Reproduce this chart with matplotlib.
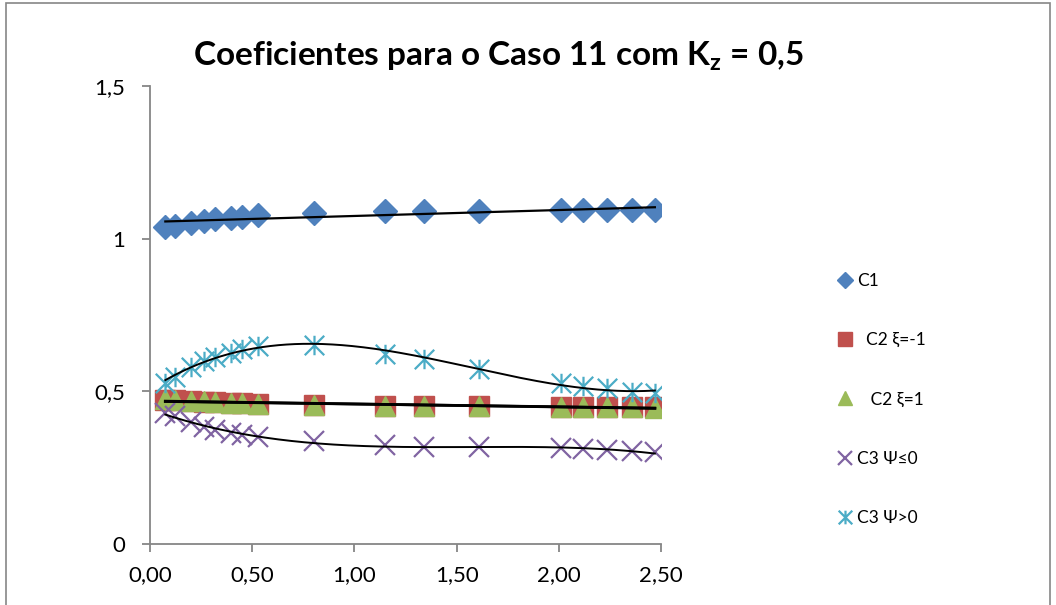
import numpy as np
import matplotlib
matplotlib.use("Agg")
import matplotlib.pyplot as plt
from matplotlib.path import Path
from matplotlib.patches import Rectangle

plt.rcParams['font.family'] = ['Lato', 'DejaVu Sans']

# Eixo horizontal comum a todas as séries
x_vals = [0.075, 0.12, 0.20, 0.265, 0.32, 0.395, 0.45, 0.53, 0.80, 1.15,
          1.34, 1.61, 2.01, 2.12, 2.235, 2.36, 2.47]

c1 = [1.037, 1.040, 1.050, 1.058, 1.063, 1.069, 1.072, 1.077, 1.085, 1.090,
      1.091, 1.092, 1.093, 1.093, 1.094, 1.094, 1.094]
c2_xi_neg = [0.472, 0.470, 0.468, 0.466, 0.465, 0.463, 0.462, 0.460, 0.455, 0.452,
             0.452, 0.451, 0.450, 0.449, 0.449, 0.448, 0.448]
c2_xi_pos = [0.476, 0.471, 0.469, 0.467, 0.465, 0.463, 0.462, 0.460, 0.455, 0.452,
             0.452, 0.451, 0.449, 0.449, 0.448, 0.448, 0.447]
c3_psi_le0 = [0.430, 0.418, 0.400, 0.382, 0.373, 0.363, 0.357, 0.352, 0.336, 0.325,
              0.319, 0.317, 0.313, 0.310, 0.308, 0.305, 0.300]
c3_psi_gt0 = [0.528, 0.548, 0.580, 0.600, 0.614, 0.627, 0.640, 0.648, 0.653, 0.622,
              0.606, 0.572, 0.526, 0.518, 0.510, 0.499, 0.494]

labels = ['C1', '  C2 ξ=-1', '   C2 ξ=1', 'C3 Ψ≤0', 'C3 Ψ>0']
x_ticks = [0.0, 0.5, 1.0, 1.5, 2.0, 2.5]
x_ticklabels = ['0,00', '0,50', '1,00', '1,50', '2,00', '2,50']
y_ticks = [0, 0.5, 1.0, 1.5]
y_ticklabels = ['0', '0,5', '1', '1,5']
title = 'Coeficientes para o Caso 11 com K$_\\mathregular{z}$ = 0,5'

BLUE = '#4F81BD'
RED = '#C0504D'
GREEN = '#9BBB59'
PURPLE = '#8064A2'
AQUA = '#4BACC6'
GRAY = '#868686'

# Marcador estrela: um X com uma haste vertical
star = Path([(0, -1), (0, 1), (-1, -1), (1, 1), (-1, 1), (1, -1)],
            [Path.MOVETO, Path.LINETO, Path.MOVETO, Path.LINETO,
             Path.MOVETO, Path.LINETO])

fig = plt.figure(figsize=(10.56, 6.05), dpi=100)
fig.patch.set_facecolor('white')
fig.patches.append(Rectangle((6 / 1056, -0.05), (1050 - 6) / 1056, 1.05 - 3 / 605,
                             transform=fig.transFigure, fill=False,
                             edgecolor=GRAY, linewidth=1.2))

ax = fig.add_axes([150 / 1056, 61 / 605, 511 / 1056, 458 / 605])

x = np.array(x_vals)

series = [
    (c1, dict(marker='D', color=BLUE, markersize=12, linestyle='none')),
    (c2_xi_neg, dict(marker='s', color=RED, markersize=14.5, linestyle='none')),
    (c2_xi_pos, dict(marker='^', color=GREEN, markersize=15, linestyle='none')),
    (c3_psi_le0, dict(marker='x', color=PURPLE, markersize=14, markeredgewidth=1.6,
                      linestyle='none')),
    (c3_psi_gt0, dict(marker=star, color=AQUA, markersize=14, markeredgewidth=1.6,
                      markerfacecolor='none', linestyle='none')),
]
for (vals, style), lab in zip(series, labels):
    ax.plot(x, vals, label=lab, zorder=3, **style)

# Linhas de tendência (ajustes polinomiais)
xs = np.linspace(x.min(), x.max(), 300)
trend = [(c1, 1, 1.6), (c2_xi_neg, 1, 2.0), (c2_xi_pos, 1, 2.0),
         (c3_psi_le0, 3, 1.4), (c3_psi_gt0, 3, 1.4)]
for vals, deg, lw in trend:
    coef = np.polyfit(x, vals, deg)
    ax.plot(xs, np.polyval(coef, xs), color='black', linewidth=lw, zorder=4)

ax.set_xlim(0, 2.5)
ax.set_ylim(0, 1.5)
ax.set_xticks(x_ticks)
ax.set_xticklabels(x_ticklabels)
ax.set_yticks(y_ticks)
ax.set_yticklabels(y_ticklabels)
for s in ['top', 'right']:
    ax.spines[s].set_visible(False)
for s in ['left', 'bottom']:
    ax.spines[s].set_color(GRAY)
    ax.spines[s].set_linewidth(1.3)
ax.tick_params(axis='both', colors=GRAY, labelcolor='black', labelsize=16,
               length=6, width=1.3, direction='out')
ax.tick_params(axis='x', pad=9)
ax.tick_params(axis='y', pad=12)

fig.text(498 / 1056, 1 - 56 / 605, title, ha='center', va='center',
         fontsize=24, fontweight='bold')

leg = ax.legend(loc='upper left', bbox_to_anchor=(822 / 1056, 1 - 257 / 605),
                bbox_transform=fig.transFigure, frameon=False, fontsize=12.5,
                labelspacing=2.5, handlelength=0.8, handletextpad=0.3,
                markerscale=0.7)

fig.savefig('out.png', dpi=100, facecolor='white')
